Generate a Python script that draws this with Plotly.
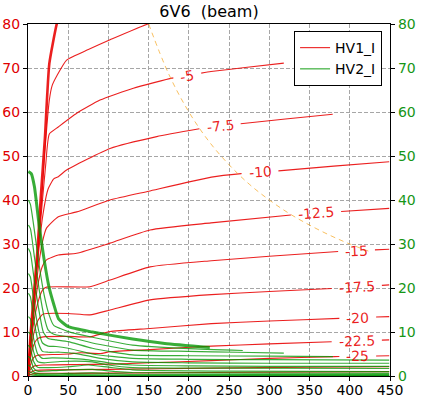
import math
import numpy as np
import plotly.graph_objects as go

# ---------------- data ----------------
grid_volts = [0, -2.5, -5, -7.5, -10, -12.5, -15, -17.5, -20, -22.5, -25, -27.5, -30]

# HV1_I : plate current (mA) vs plate voltage (V), one list per grid voltage
hv1_g0 = [(0, 0), (3, 9), (7, 18), (12, 29), (16, 41), (21, 54), (26.5, 71), (35.7, 80), (45, 86)]
hv1_g2_5 = [(0, 0), (3, 8.5), (7, 17), (12, 28), (17, 40), (21, 51), (26.5, 62.7), (30, 66), (36.4, 68.4),
            (48, 71.8), (75, 74.2), (102, 76.4), (149, 80), (200, 82.5)]
hv1_g5 = [(0, 0), (3, 8), (7, 16), (12, 27), (18, 40), (22, 48), (26.5, 55), (37.7, 56.6), (60.5, 59.7),
          (89.5, 62.7), (131, 65.4), (178.6, 67.7), (227.5, 69.2), (270, 70.1), (318, 71.1)]
hv1_g7_5 = [(0, 0), (3, 8), (7, 16), (12, 26), (18, 36), (25, 42.5), (32, 44.8), (37.7, 45.3), (48, 46.8),
            (102, 51.7), (160, 54.4), (228.7, 56.7), (262.7, 57.3), (320, 58.4), (378.8, 59.5)]
hv1_g10 = [(0, 0), (3, 7.5), (7, 15), (12, 23.5), (18, 30.5), (23, 33.6), (37.7, 36.2), (60.5, 37.3),
           (102, 40), (150, 42), (228, 45.2), (265, 46), (310, 46.6), (380, 47.7), (449, 48.7)]
hv1_g12_5 = [(0, 0), (3, 7), (7, 13.5), (12, 20.5), (18, 25), (23, 26.4), (37.7, 27.5), (60.5, 27.9),
             (102, 30.2), (151.7, 33.2), (227.5, 34.8), (327, 36.6), (389, 37.4), (449, 38.1)]
hv1_g15 = [(0, 0), (3, 6), (7, 12), (12, 16.5), (18, 19.5), (23, 20.2), (77, 20.3), (102, 21.8),
           (151.7, 24.8), (228, 26.2), (300, 27.2), (387, 28.3), (449, 28.8)]
hv1_g17_5 = [(0, 0), (3, 5), (7, 9.5), (12, 12.5), (18, 14), (23, 14.2), (50, 14.2), (77, 13.9), (102, 15),
             (151.7, 17.3), (228, 18.5), (300, 19.2), (379, 19.9), (449, 20.7)]
hv1_g20 = [(0, 0), (3, 4), (7, 7), (12, 8.5), (19, 8.9), (50, 9.0), (77, 8.9), (102, 10.1), (151.7, 10.8),
           (228, 11.9), (300, 12.5), (387, 13.1), (449, 13.5)]
hv1_g22_5 = [(0, 0), (3, 2.5), (7, 4.2), (12, 4.7), (19, 4.8), (50, 5.0), (65, 5.3), (90, 5.1), (102, 5.5),
             (151.7, 6.0), (228, 6.8), (300, 7.3), (381, 7.8), (449, 8.2)]
hv1_g25 = [(0, 0), (3, 1.5), (8, 2.3), (20, 2.5), (60, 2.6), (102, 2.7), (151.7, 3.0), (228, 3.5),
           (300, 4.0), (381, 4.4), (449, 4.6)]
hv1_g27_5 = [(0, 0), (3, 0.8), (10, 1.3), (30, 1.4), (100, 1.5), (228, 1.8), (350, 2.0), (449, 2.1)]
hv1_g30 = [(0, 0), (3, 0.3), (10, 0.6), (50, 0.6), (228, 0.8), (449, 1.0)]

# HV2_I : screen current (mA) vs plate voltage (V)
hv2_g0 = [(0.5, 46.5), (4, 46), (8, 43), (14, 34), (20, 26.5), (26, 20.3), (32, 16.3), (38, 13), (50, 11.2),
          (80, 10.0), (130, 8.4), (170, 7.4), (226, 6.5)]
hv2_g2_5 = [(0.5, 40), (3, 39), (8, 33), (14, 25), (20, 18.5), (26, 14), (32, 11.5), (40, 10.8), (50, 10.1),
            (80, 8.8), (130, 7.0), (200, 6.2), (267, 5.8)]
hv2_g5 = [(0.5, 34.3), (3, 33.5), (8, 27), (14, 19.5), (20, 13.5), (25, 10.5), (32, 9.5), (50, 8.9),
          (80, 7.5), (130, 5.9), (200, 5.6), (260, 5.4), (318, 5.2)]
hv2_g7_5 = [(0.5, 29), (3, 28), (8, 21.5), (14, 14.5), (19, 10), (25, 8.5), (35, 8.2), (50, 7.8), (80, 6.3),
            (130, 4.8), (200, 4.6), (300, 4.5), (379, 4.4)]
hv2_g10 = [(0.5, 23.3), (3, 22.5), (8, 16), (13, 10.5), (18, 7.5), (25, 6.8), (35, 6.7), (50, 6.3), (80, 5.0),
           (130, 4.0), (200, 3.8), (300, 3.7), (449, 3.6)]
hv2_g12_5 = [(0.5, 18.8), (3, 18), (8, 12), (13, 7.5), (18, 5.6), (25, 5.4), (40, 5.4), (60, 5.1), (90, 4.0),
             (130, 3.2), (200, 3.0), (300, 2.9), (449, 2.9)]
hv2_g15 = [(0.5, 13.5), (3, 13), (7, 8.5), (12, 5), (18, 4.0), (30, 4.1), (50, 4.0), (70, 3.8), (100, 3.0),
           (130, 2.5), (200, 2.3), (300, 2.2), (449, 2.2)]
hv2_g17_5 = [(0.5, 10), (3, 9.5), (7, 5.5), (12, 3.3), (20, 3.0), (40, 3.3), (60, 3.4), (80, 3.2), (100, 2.5),
             (130, 1.9), (250, 1.8), (449, 1.7)]
hv2_g20 = [(0.5, 7), (3, 6.3), (7, 3.3), (12, 2.0), (25, 1.9), (50, 2.1), (75, 2.5), (100, 2.0), (130, 1.4),
           (250, 1.1), (449, 1.0)]
hv2_g22_5 = [(0.5, 4.5), (3, 4), (7, 1.8), (12, 1.1), (30, 1.2), (50, 1.4), (80, 1.5), (110, 1.0), (130, 0.8),
             (300, 0.65), (449, 0.6)]
hv2_g25 = [(0.5, 2.5), (3, 2.1), (7, 0.9), (15, 0.5), (50, 0.6), (80, 0.7), (130, 0.4), (449, 0.3)]
hv2_g27_5 = [(0.5, 1.2), (4, 0.8), (10, 0.3), (50, 0.3), (130, 0.2), (449, 0.15)]
hv2_g30 = [(0.5, 0.5), (5, 0.2), (50, 0.1), (449, 0.05)]

# max plate dissipation (12 W) curve
pmax_va = [150, 175, 200, 225, 250, 275, 300, 325, 350, 375, 400, 426]
pmax_ia = [80, 68.6, 60, 53.3, 48, 43.6, 40, 36.9, 34.3, 32, 30, 28.2]

# inline curve labels: text and plate voltage of label centre
label_text = ["-5", "-7.5", "-10", "-12.5", "-15", "-17.5", "-20", "-22.5", "-25"]
label_va = [198, 238.7, 288.4, 358, 408.4, 408.7, 409.9, 408.7, 409.9]

x_ticks = [0, 50, 100, 150, 200, 250, 300, 350, 400, 450]
y_ticks = [0, 10, 20, 30, 40, 50, 60, 70, 80]

hv1_curves = [hv1_g0, hv1_g2_5, hv1_g5, hv1_g7_5, hv1_g10, hv1_g12_5, hv1_g15, hv1_g17_5,
              hv1_g20, hv1_g22_5, hv1_g25, hv1_g27_5, hv1_g30]
hv2_curves = [hv2_g0, hv2_g2_5, hv2_g5, hv2_g7_5, hv2_g10, hv2_g12_5, hv2_g15, hv2_g17_5,
              hv2_g20, hv2_g22_5, hv2_g25, hv2_g27_5, hv2_g30]

# ---------------- layout geometry ----------------
W, H = 423, 399
ML, MR, MT, MB = 28, 33, 24, 23
plot_w = W - ML - MR
plot_h = H - MT - MB
px_per_v = plot_w / 450.0
px_per_ma = plot_h / 80.0

RED = "rgba(232,0,0,0.88)"
GREEN = "rgba(0,150,0,0.78)"
FONT = "DejaVu Sans"
SMOOTH = 0.5


def text_w(s):
    return sum(5 if c == "-" else 4.5 if c == "." else 8.9 for c in s)


fig = go.Figure()
annotations = []
label_map = {g: k for k, g in enumerate([-5, -7.5, -10, -12.5, -15, -17.5, -20, -22.5, -25])}

for g, pts in zip(grid_volts, hv1_curves):
    v = np.array([p[0] for p in pts], float)
    i = np.array([p[1] for p in pts], float)
    xs, ys = list(v), list(i)
    if g in label_map:
        k = label_map[g]
        vl = label_va[k]
        il = float(np.interp(vl, v, i))
        hg = (text_w(label_text[k]) / 2 + 7) / px_per_v
        a, b = vl - hg, min(vl + hg, v.max())
        left = [(x, y) for x, y in zip(v, i) if x < a] + [(a, float(np.interp(a, v, i)))]
        right = [(b, float(np.interp(b, v, i)))] + [(x, y) for x, y in zip(v, i) if x > b]
        xs = [p[0] for p in left] + [None] + [p[0] for p in right]
        ys = [p[1] for p in left] + [None] + [p[1] for p in right]
        slope = (np.interp(vl + 6, v, i) - np.interp(vl - 6, v, i)) / 12.0
        ang = math.degrees(math.atan(slope * px_per_ma / px_per_v))
        annotations.append(dict(x=vl, y=il, xref="x", yref="y", text=label_text[k], showarrow=False,
                                textangle=-ang, xanchor="center", yanchor="middle",
                                font=dict(family=FONT, size=14, color=RED)))
    fig.add_trace(go.Scatter(x=xs, y=ys, mode="lines", name="HV1_I", legendgroup="hv1",
                             showlegend=(g == -5), connectgaps=False,
                             line=dict(color=RED, width=2.6 if g == 0 else 1.1,
                                       shape="spline", smoothing=SMOOTH), hoverinfo="skip"))

for g, pts in zip(grid_volts, hv2_curves):
    fig.add_trace(go.Scatter(x=[p[0] for p in pts], y=[p[1] for p in pts], mode="lines", name="HV2_I",
                             legendgroup="hv2", showlegend=(g == -5), yaxis="y2",
                             line=dict(color=GREEN, width=3 if g == 0 else 1.2,
                                       shape="spline", smoothing=SMOOTH), hoverinfo="skip"))

fig.add_trace(go.Scatter(x=pmax_va, y=pmax_ia, mode="lines", showlegend=False,
                         line=dict(color="rgba(245,165,30,0.7)", width=1, dash="5px,4px",
                                   shape="spline"), hoverinfo="skip"))

grid_kw = dict(showgrid=True, gridcolor="#a6a6a6", griddash="4px,2px", gridwidth=1)

fig.update_layout(
    width=W, height=H,
    margin=dict(l=ML, r=MR, t=MT, b=MB, pad=0, autoexpand=False),
    paper_bgcolor="white", plot_bgcolor="white",
    font=dict(family=FONT, size=14, color="black"),
    title=dict(text="6V6\u00a0\u00a0(beam)", x=0.5, xref="paper", xanchor="center",
               y=1 - 11 / H, yref="container", yanchor="middle",
               font=dict(family=FONT, size=16, color="black")),
    xaxis=dict(range=[0, 450], tickvals=x_ticks, ticks="outside", ticklen=4, tickcolor="black",
               showline=True, linecolor="black", linewidth=1.2, mirror=True, zeroline=False,
               tickfont=dict(family=FONT, size=14, color="black"), **grid_kw),
    yaxis=dict(range=[0, 80], tickvals=y_ticks, ticks="outside", ticklen=4, tickcolor="black",
               showline=True, linecolor="black", linewidth=1.2, zeroline=False,
               tickfont=dict(family=FONT, size=14, color="#e00000"), **grid_kw),
    yaxis2=dict(range=[0, 80], tickvals=y_ticks, overlaying="y", side="right", ticks="outside",
                ticklen=4, tickcolor="black", showline=True, linecolor="black", linewidth=1.2,
                showgrid=False, zeroline=False,
                tickfont=dict(family=FONT, size=14, color="#169616")),
    legend=dict(x=0.735, y=0.98, xanchor="left", yanchor="top", bgcolor="white",
                bordercolor="black", borderwidth=1, font=dict(family=FONT, size=14),
                traceorder="normal", tracegroupgap=0),
    annotations=annotations,
    showlegend=True,
)

try:
    fig.update_xaxes(ticklabelstandoff=-3)
except Exception:
    fig.update_xaxes(ticklen=2)

fig.write_html("out.html", config={"displayModeBar": False},
               post_script="document.body.style.margin='0';document.body.style.padding='0';")
